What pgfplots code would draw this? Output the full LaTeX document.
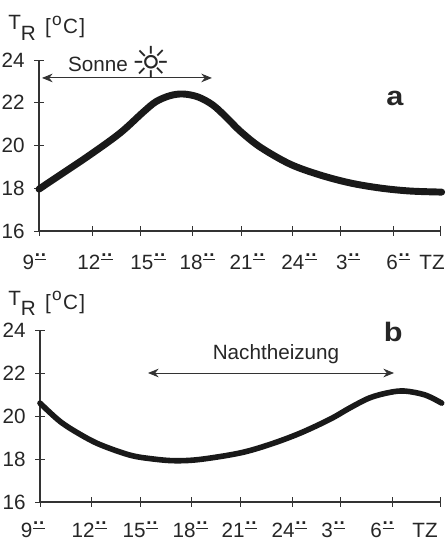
\documentclass[border=0pt]{standalone}
\usepackage{fontspec}
\setmainfont{Liberation Sans}
\newfontfamily\symfont{DejaVu Sans}
\usepackage{pgfplots}
\pgfplotsset{compat=1.18}
\usetikzlibrary{arrows.meta}

% two raised dots over a short bar, as in the hour labels
\newcommand{\oo}{\kern0.6pt\rlap{\raisebox{7pt}{\rule{8.6pt}{0.8pt}}}\raisebox{10pt}{\fontsize{14}{14}\selectfont\bfseries.\kern0.6pt.}}
% #1 = shift of the label from its tick, #2 = text
\newcommand{\tl}[2]{\makebox[0pt]{\hspace*{#1}#2}}
\newcommand{\TR}{\raisebox{3pt}{T}\raisebox{-5pt}{R}\kern7pt[\kern1pt\raisebox{6.5pt}{\fontsize{13}{13}\selectfont o}\kern1pt C\kern1pt]}

\pgfplotsset{
  tempaxis/.style={
    scale only axis,
    axis x line=bottom,
    axis y line=left,
    axis line style={-, line width=0.8pt, black!80},
    xmin=0, xmax=24, ymin=16, ymax=24,
    ytick={16,18,20,22,24},
    tick align=center,
    major tick length=7pt,
    tick style={line width=0.7pt, black!80},
    /pgf/number format/assume math mode=true,
    yticklabel style={anchor=east, inner sep=0pt, xshift=-7pt},
    xticklabel style={anchor=base, inner sep=0pt},
    clip=false,
    font=\fontsize{15.5}{18}\selectfont,
    tick label style={text=black!85},
  },
  curve/.style={black!90, smooth, tension=0.55, line cap=round},
  span/.style={<->, >={Stealth[length=8pt, width=6.5pt]}, line width=0.7pt, black!80},
}

\begin{document}
\begin{tikzpicture}
\useasboundingbox (0,0) rectangle (333.75pt,405.75pt);

\node[anchor=base west, inner sep=0pt, font=\fontsize{15.5}{18}\selectfont, text=black!85] at (6pt,380.25pt) {\TR};
\node[anchor=base west, inner sep=0pt, font=\fontsize{15.5}{18}\selectfont, text=black!85] at (6pt,173.75pt) {\TR};

\begin{axis}[
    tempaxis,
    at={(29.25pt,232.5pt)},
    anchor=origin,
    width=300.75pt,
    height=128.25pt,
    xticklabel style={yshift=-25.5pt},
    xtick={0,3.17,6.10,9.16,12.09,15.14,18.07,21.19,24},
    xticklabels={\tl{-7pt}{9\oo},\tl{4.5pt}{12\oo},\tl{10.5pt}{15\oo},\tl{7.5pt}{18\oo},\tl{9pt}{21\oo},\tl{10.5pt}{24\oo},\tl{10.5pt}{3\oo},\tl{7.5pt}{6\oo},\tl{-12pt}{TZ}},
]
\addplot[curve, line width=5.2pt] coordinates {
    (0,17.96) (1.26,18.62) (3.05,19.56) (4.85,20.58) (6.22,21.55) (7.0,22.05)
    (7.84,22.33) (8.62,22.41) (9.52,22.27) (10.41,21.89) (11.25,21.29) (12.03,20.68)
    (13.23,19.93) (15.02,19.13) (16.82,18.62) (18.61,18.25) (20.41,18.01) (22.2,17.87) (24.1,17.82)
};
\addplot[span] coordinates {(0.18,23.16) (10.35,23.16)};
\node[text=black!85, font=\fontsize{15.5}{18}\selectfont] at (axis cs:3.53,23.81) {Sonne};
\node[text=black!85, font=\symfont\fontsize{33}{33}\selectfont] at (axis cs:6.7,23.9) {☼};
\node[text=black!85, xscale=1.15, font=\fontsize{20}{20}\selectfont\bfseries] at (axis cs:21.3,22.2) {a};
\end{axis}

\begin{axis}[
    tempaxis,
    at={(30pt,29.25pt)},
    anchor=origin,
    width=300pt,
    height=129pt,
    xticklabel style={yshift=-23.5pt},
    xtick={0,3.06,6,9.06,12,15.12,18,21.12,24},
    xticklabels={\tl{-11pt}{9\oo},\tl{-3pt}{12\oo},\tl{0pt}{15\oo},\tl{-1.5pt}{18\oo},\tl{-1.5pt}{21\oo},\tl{-4.5pt}{24\oo},\tl{-10.5pt}{3\oo},\tl{-15pt}{6\oo},\tl{-22.5pt}{TZ}},
]
\addplot[curve, line width=4.2pt] coordinates {
    (0,20.60) (1.2,19.75) (2.4,19.15) (3.6,18.67) (5.4,18.18) (6.8,18.0)
    (8.1,17.92) (9.6,17.98) (12,18.28) (13.8,18.68) (15.6,19.2) (17.4,19.85)
    (18.6,20.38) (19.8,20.85) (21,21.1) (21.9,21.16) (23.1,20.98) (24.1,20.60)
};
\addplot[span] coordinates {(6.48,22.0) (21.24,22.0)};
\node[text=black!85, font=\fontsize{15.5}{18}\selectfont] at (axis cs:14.16,22.88) {Nachtheizung};
\node[text=black!85, xscale=1.15, font=\fontsize{20}{20}\selectfont\bfseries] at (axis cs:21.2,23.9) {b};
\end{axis}
\end{tikzpicture}
\end{document}
